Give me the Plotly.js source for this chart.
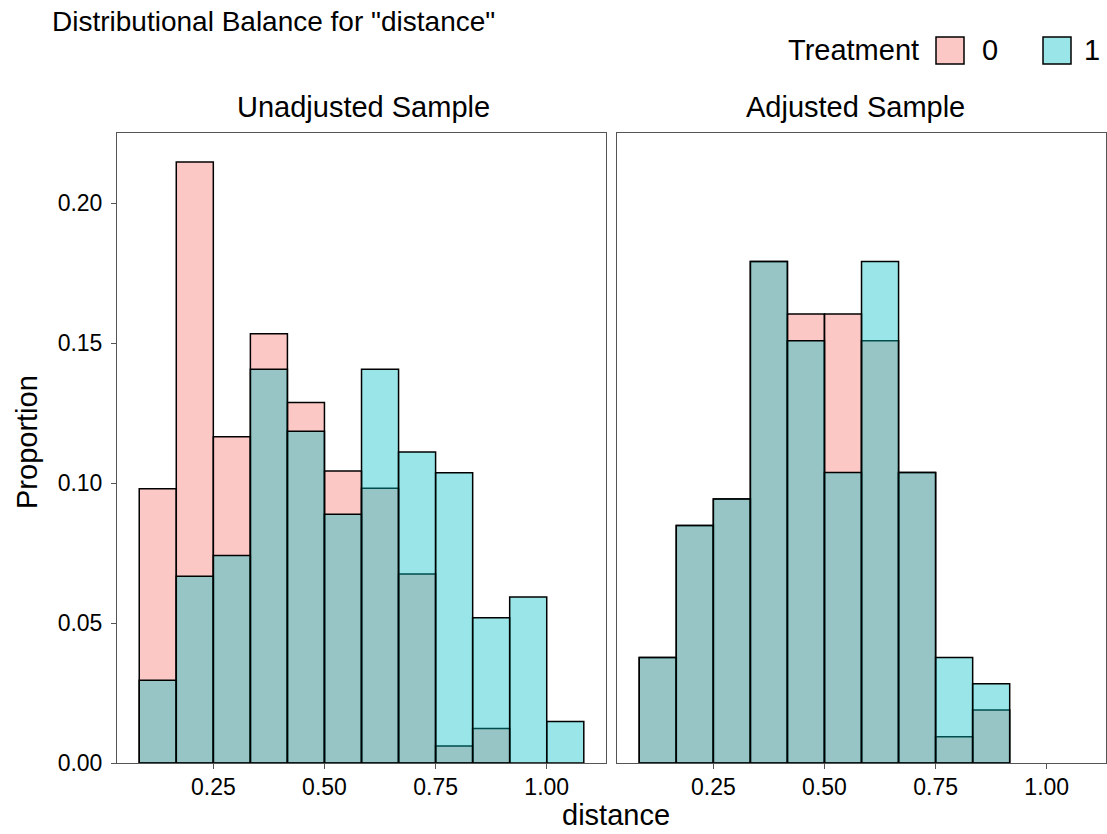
<!DOCTYPE html>
<html>
<head>
<meta charset="utf-8">
<script src="https://cdn.plot.ly/plotly-3.0.1.min.js"></script>
<style>html,body{margin:0;padding:0;background:#fff;}#chart{width:1107px;height:834px;}</style>
</head>
<body>
<div id="chart"></div>
<script>
// ---- data ----
var binCenters = [0.1250, 0.2083, 0.2917, 0.3750, 0.4583, 0.5417, 0.6250, 0.7083, 0.7917, 0.8750, 0.9583, 1.0417];
var binWidth = 0.08333;
var groups = ["0", "1"];
var panels = ["Unadjusted Sample", "Adjusted Sample"];
var unadjusted0 = [0.0980, 0.2147, 0.1166, 0.1534, 0.1288, 0.1043, 0.0982, 0.0675, 0.0061, 0.0123, 0, 0];
var unadjusted1 = [0.0296, 0.0667, 0.0741, 0.1407, 0.1185, 0.0889, 0.1407, 0.1111, 0.1037, 0.0519, 0.0593, 0.0148];
var adjusted0   = [0.0377, 0.0849, 0.0943, 0.1792, 0.1604, 0.1604, 0.1509, 0.1038, 0.0094, 0.0189, 0, 0];
var adjusted1   = [0.0377, 0.0849, 0.0943, 0.1792, 0.1509, 0.1038, 0.1792, 0.1038, 0.0377, 0.0283, 0, 0];
var xTicks = [0.25, 0.50, 0.75, 1.00];
var xTickText = ["0.25", "0.50", "0.75", "1.00"];
var yTicks = [0, 0.05, 0.10, 0.15, 0.20];
var yTickText = ["0.00", "0.05", "0.10", "0.15", "0.20"];

// ---- styling ----
var FONT = "Liberation Sans, Arial, Helvetica, sans-serif";
var fills = ["rgba(248,118,109,0.4)", "rgba(0,191,196,0.4)"];
var lineCol = "#555555";
var W = 1107, H = 834, ML = 117, MR = 1, MT = 133, MB = 71;
var PW = W - ML - MR, PH = H - MT - MB;
function px(x) { return (x - ML) / PW; }
function py(y) { return (H - MB - y) / PH; }
function nz(a) { return a.map(function (v) { return v === 0 ? null : v; }); }

function barTrace(vals, g, xa, ya) {
  return {
    type: "bar", x: binCenters, y: nz(vals), width: binWidth,
    xaxis: xa, yaxis: ya, name: groups[g], showlegend: false,
    marker: { color: fills[g], line: { color: "#000000", width: 1.5 } },
    hoverinfo: "x+y"
  };
}
var data = [
  barTrace(unadjusted0, 0, "x", "y"),
  barTrace(unadjusted1, 1, "x", "y"),
  barTrace(adjusted0, 0, "x2", "y2"),
  barTrace(adjusted1, 1, "x2", "y2")
];

var xr = [0.0333, 1.1333], yr = [0, 0.2251];
function xAxis(dom, anchor) {
  return {
    domain: dom, anchor: anchor, range: xr, tickmode: "array", tickvals: xTicks, ticktext: xTickText,
    ticks: "outside", ticklen: 5, tickcolor: lineCol, tickwidth: 1, ticklabelstandoff: -2,
    showline: true, linecolor: lineCol, linewidth: 1, mirror: true,
    showgrid: false, zeroline: false,
    tickfont: { family: FONT, size: 23, color: "#000" }
  };
}
function yAxis(anchor, labels) {
  return {
    domain: [0, 1], anchor: anchor, range: yr, tickmode: "array", tickvals: yTicks, ticktext: yTickText,
    ticks: labels ? "outside" : "", ticklen: 5, tickcolor: lineCol, tickwidth: 1,
    showticklabels: labels, ticklabelstandoff: 4,
    showline: true, linecolor: lineCol, linewidth: 1, mirror: true,
    showgrid: false, zeroline: false,
    tickfont: { family: FONT, size: 23, color: "#000" }
  };
}

var ann = [];
function txt(t, x, y, size, xanchor, angle) {
  ann.push({ text: t, xref: "paper", yref: "paper", x: px(x), y: py(y), showarrow: false,
    xanchor: xanchor || "center", yanchor: "middle", textangle: angle || 0,
    font: { family: FONT, size: size, color: "#000" } });
}
txt('Distributional Balance for "distance"', 50, 22, 28, "left");
txt(panels[0], 363, 107, 29);
txt(panels[1], 855, 107, 29);
txt("distance", 616, 815, 29);
txt("Proportion", 27, 442, 29, "center", -90);
txt("Treatment", 921, 50, 29, "right");
txt(groups[0], 980, 50, 29, "left");
txt(groups[1], 1082, 50, 29, "left");

var shapes = [
  { type: "rect", xref: "paper", yref: "paper", x0: px(936), x1: px(964), y0: py(64), y1: py(37),
    fillcolor: fills[0], line: { color: "#000", width: 1.5 } },
  { type: "rect", xref: "paper", yref: "paper", x0: px(1043), x1: px(1071), y0: py(64), y1: py(37),
    fillcolor: fills[1], line: { color: "#000", width: 1.5 } }
];

var layout = {
  width: W, height: H,
  margin: { l: ML, r: MR, t: MT, b: MB, pad: 0 },
  paper_bgcolor: "#ffffff", plot_bgcolor: "#ffffff",
  barmode: "overlay", bargap: 0,
  showlegend: false,
  xaxis: xAxis([0, 489 / PW], "y"),
  yaxis: yAxis("x", true),
  xaxis2: xAxis([500 / PW, 1], "y2"),
  yaxis2: yAxis("x2", false),
  annotations: ann,
  shapes: shapes
};

Plotly.newPlot("chart", data, layout, { displayModeBar: false, staticPlot: true });
</script>
</body>
</html>
